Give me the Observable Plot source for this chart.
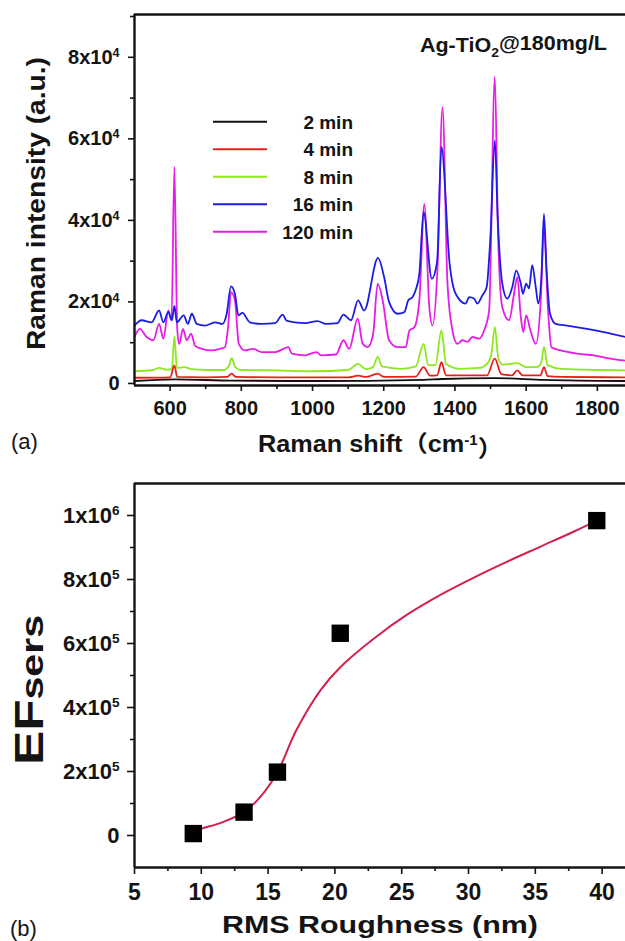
<!DOCTYPE html>
<html>
<head>
<meta charset="utf-8">
<script src="https://cdn.jsdelivr.net/npm/d3@7"></script>
<script src="https://cdn.jsdelivr.net/npm/@observablehq/plot@0.6"></script>
<style>
html, body { margin: 0; padding: 0; background: #fff; }
#wrap { position: relative; width: 625px; height: 941px; overflow: hidden; background: #fff; }
#wrap svg { position: absolute; left: 0; overflow: visible; }
</style>
</head>
<body>
<div id="wrap"></div>
<script>
// ---------------- Panel (a): Raman spectra ----------------
const seriesNames = ["2 min", "4 min", "8 min", "16 min", "120 min"];
const seriesColors = ["#111111", "#e8201c", "#8ee81c", "#1c1ce8", "#e81ce8"];

const min2X = [500, 612, 773, 1000, 1312, 1362, 1512, 1650, 1879];
const min2Y = [600, 1000, 700, 600, 900, 1100, 1300, 900, 600];

const min4X = [500, 600, 612, 620, 700, 760, 773, 785, 900, 1100, 1128, 1150, 1183, 1200, 1290, 1312, 1330, 1350, 1362, 1375, 1490, 1512, 1530, 1560, 1575, 1590, 1640, 1650, 1660, 1700, 1879];
const min4Y = [1400, 1500, 4400, 1600, 1500, 1600, 2400, 1600, 1500, 1500, 1900, 1600, 2400, 1600, 1700, 4000, 1900, 2000, 5200, 2000, 2000, 6100, 2300, 2000, 3200, 2000, 2000, 4000, 1800, 1600, 1500];

const min8X = [500, 550, 570, 590, 605, 612, 619, 640, 660, 700, 750, 765, 773, 783, 800, 900, 1000, 1100, 1128, 1150, 1170, 1183, 1195, 1250, 1290, 1312, 1325, 1345, 1362, 1375, 1416, 1470, 1490, 1502, 1512, 1522, 1535, 1575, 1600, 1630, 1642, 1650, 1660, 1700, 1800, 1879];
const min8Y = [3000, 3300, 3800, 3400, 3600, 11500, 3800, 4000, 3500, 3300, 3300, 4300, 6200, 4000, 3300, 3200, 3000, 3300, 4800, 3500, 4000, 6500, 4200, 3600, 4200, 9700, 4500, 4500, 13000, 4800, 3600, 3800, 4800, 7000, 13800, 6000, 4600, 5000, 4000, 4000, 5000, 8900, 4500, 3600, 3300, 3200];

const min16X = [500, 520, 548, 569, 581, 595, 605, 612, 619, 638, 650, 661, 675, 698, 726, 747, 759, 771, 782, 792, 803, 824, 857, 895, 916, 927, 951, 979, 1014, 1038, 1070, 1087, 1108, 1128, 1145, 1184, 1201, 1215, 1239, 1258, 1269, 1281, 1290, 1300, 1312, 1335, 1350, 1362, 1385, 1402, 1430, 1440, 1454, 1463, 1477, 1489, 1500, 1512, 1520, 1533, 1547, 1561, 1572, 1585, 1591, 1600, 1608, 1617, 1627, 1634, 1643, 1650, 1657, 1667, 1683, 1715, 1771, 1818, 1879];
const min16Y = [14200, 15500, 15000, 17900, 15000, 17500, 15500, 19000, 15000, 16700, 14600, 17100, 14600, 14200, 15000, 14600, 17100, 23800, 22000, 16700, 17300, 15000, 14600, 14800, 16900, 15400, 15000, 14800, 15300, 14600, 14800, 16900, 15500, 20400, 17900, 30800, 26100, 20000, 17100, 17500, 20400, 21200, 23000, 26900, 42000, 25700, 30000, 58000, 29400, 22000, 19600, 21200, 20800, 19600, 21600, 23600, 36700, 59600, 40800, 24500, 20800, 23600, 27700, 24500, 22000, 24500, 23300, 29000, 23600, 19600, 26500, 41600, 28500, 17100, 14600, 14200, 13400, 12600, 11400];

const min120X = [500, 515, 534, 553, 569, 581, 595, 604, 612, 620, 626, 636, 647, 659, 670, 689, 717, 740, 754, 763, 771, 782, 793, 810, 833, 857, 895, 932, 942, 979, 1011, 1024, 1066, 1087, 1103, 1127, 1141, 1155, 1170, 1183, 1197, 1215, 1239, 1262, 1272, 1286, 1300, 1314, 1328, 1337, 1351, 1365, 1379, 1393, 1407, 1421, 1435, 1449, 1468, 1482, 1496, 1512, 1521, 1533, 1552, 1566, 1575, 1585, 1592, 1600, 1612, 1627, 1641, 1650, 1661, 1671, 1697, 1744, 1790, 1837, 1879];
const min120Y = [11400, 13400, 11400, 10600, 14600, 11000, 17900, 15500, 53100, 13400, 9700, 13400, 10600, 12200, 9300, 8500, 8100, 8500, 8900, 14000, 22400, 20400, 9700, 8100, 8500, 7700, 7700, 8900, 7300, 6900, 7700, 6900, 7100, 10600, 8500, 15900, 9700, 8900, 12000, 24500, 20400, 10600, 8900, 8900, 13000, 13800, 20400, 44000, 18700, 14200, 28500, 67800, 24500, 13000, 9700, 10600, 10200, 11400, 11000, 13000, 17900, 75200, 36700, 18700, 15500, 22000, 26100, 16300, 12600, 16700, 13000, 9700, 20400, 38500, 18700, 8900, 8100, 7300, 6900, 6100, 5600];

const ramanXDomain = [500, 1879];
const ramanYDomain = [-500, 90500];
const ramanXTicks = [600, 800, 1000, 1200, 1400, 1600, 1800];
const ramanXMinor = [700, 900, 1100, 1300, 1500, 1700];
const ramanYTicks = [0, 20000, 40000, 60000, 80000];
const ramanYMinor = [10000, 30000, 50000, 70000, 90000];
const annotationMain = "Ag-TiO";
const annotationSub = "2";
const annotationTail = "@180mg/L";

// ---------------- Panel (b): EF vs roughness ----------------
const roughness = [9.4, 13.2, 15.7, 20.4, 39.6];
const efValues = [6000, 73000, 198000, 632000, 984000];
const fitRoughness = [9.4, 10.0, 11.6, 13.2, 14.4, 15.7, 17.1, 18.9, 20.4, 22.9, 25.4, 27.9, 30.4, 32.9, 35.4, 37.9, 39.6];
const fitEF = [12000, 21000, 42000, 73000, 120000, 198000, 328000, 453000, 526000, 615000, 690000, 752000, 806000, 856000, 903000, 950000, 984000];
const efXDomain = [5, 41.75];
const efYDomain = [-100000, 1100000];
const efXTicks = [5, 10, 15, 20, 25, 30, 35, 40];
const efXMinor = [7.5, 12.5, 17.5, 22.5, 27.5, 32.5, 37.5];
const efYTicks = [0, 200000, 400000, 600000, 800000, 1000000];
const efYMinor = [100000, 300000, 500000, 700000, 900000];

// ---------------- helpers ----------------
const FONT = '"Liberation Sans", Arial, Helvetica, sans-serif';
const INK = "#141414";
function rows(xs, ys, name) { return xs.map((x, i) => ({x, y: ys[i], series: name})); }
function sci(v) {
  if (v === 0) return "0";
  const e = Math.floor(Math.log10(Math.abs(v)) + 1e-9);
  const m = Math.round(v / Math.pow(10, e));
  return m + "x10^" + e;
}
const plain = v => String(v);
function supify(svg) {
  d3.select(svg).selectAll("text").each(function () {
    const t = this.textContent;
    const m = t.match(/^(.*x10)\^(-?\d+)$/);
    if (m) {
      const s = d3.select(this);
      s.text(m[1]);
      s.append("tspan").attr("dy", "-0.55em").attr("font-size", "0.62em").text(m[2]);
    }
  });
}

const seriesX = [min2X, min4X, min8X, min16X, min120X];
const seriesY = [min2Y, min4Y, min8Y, min16Y, min120Y];
const drawOrder = [4, 3, 2, 1, 0];

const wrap = document.getElementById("wrap");

// ---------------- Plot (a) ----------------
const plotA = Plot.plot({
  width: 625, height: 465,
  marginTop: 14, marginBottom: 80, marginLeft: 134, marginRight: 0,
  x: {domain: ramanXDomain, label: null},
  y: {domain: ramanYDomain, label: null},
  style: {fontFamily: FONT, color: INK, background: "transparent", overflow: "visible"},
  marks: [
    ...drawOrder.map(i => Plot.line(rows(seriesX[i], seriesY[i], seriesNames[i]),
      {x: "x", y: "y", stroke: seriesColors[i], strokeWidth: 1.8, curve: "monotone-x"})),
    Plot.ruleY([ramanYDomain[1]], {stroke: INK, strokeWidth: 2.4}),
    Plot.ruleY([ramanYDomain[0]], {stroke: INK, strokeWidth: 2.4}),
    Plot.ruleX([ramanXDomain[0]], {stroke: INK, strokeWidth: 2.4}),
    Plot.axisY(ramanYTicks, {tickSize: 6, tickPadding: 9, tickFormat: sci, fontSize: 20, fontWeight: "bold", strokeWidth: 1.6, label: null}),
    Plot.axisY(ramanYMinor, {tickSize: 4, tickFormat: () => "", strokeWidth: 1.6, label: null}),
    Plot.axisX(ramanXTicks, {tickSize: 6, tickPadding: 9, tickFormat: plain, fontSize: 20, fontWeight: "bold", strokeWidth: 1.6, label: null}),
    Plot.axisX(ramanXMinor, {tickSize: 4, tickFormat: () => "", strokeWidth: 1.6, label: null})
  ]
});
plotA.style.top = "0px";
wrap.appendChild(plotA);
supify(plotA);

const gA = d3.select(plotA);
// legend
seriesNames.forEach((name, i) => {
  const y = 121.7 + i * 27.5;
  gA.append("line").attr("x1", 213).attr("x2", 267).attr("y1", y).attr("y2", y)
    .attr("stroke", seriesColors[i]).attr("stroke-width", 2);
  gA.append("text").attr("x", 353).attr("y", y).attr("dy", "0.36em")
    .attr("text-anchor", "end").attr("font-family", FONT).attr("font-weight", "bold")
    .attr("font-size", 19).attr("fill", INK).text(name);
});
// annotation
{
  const t = gA.append("text").attr("x", 420).attr("y", 52).attr("text-anchor", "start")
    .attr("font-family", FONT).attr("font-weight", "bold").attr("font-size", 20).attr("fill", INK)
    .attr("textLength", 187).attr("lengthAdjust", "spacingAndGlyphs");
  t.append("tspan").text(annotationMain);
  t.append("tspan").attr("dy", "0.35em").attr("font-size", "0.65em").text(annotationSub);
  t.append("tspan").attr("dy", "-0.35em").text(annotationTail);
}
// y title
gA.append("text").attr("transform", "translate(45,350) rotate(-90)").attr("text-anchor", "start")
  .attr("font-family", FONT).attr("font-weight", "bold").attr("font-size", 25).attr("fill", INK)
  .attr("textLength", 293).attr("lengthAdjust", "spacingAndGlyphs")
  .text("Raman intensity (a.u.)");
// x title
{
  const t = gA.append("text").attr("x", 258).attr("y", 452).attr("text-anchor", "start")
    .attr("font-family", '"Liberation Sans", Arial, "Noto Sans CJK SC", sans-serif')
    .attr("font-weight", "bold").attr("font-size", 23).attr("fill", INK)
    .attr("textLength", 245).attr("lengthAdjust", "spacingAndGlyphs");
  t.append("tspan").text("Raman shift（cm");
  t.append("tspan").attr("dy", "-0.5em").attr("font-size", "0.6em").text("-1");
  t.append("tspan").attr("dy", "0.5em").text("）");
}
gA.append("text").attr("x", 11).attr("y", 449).attr("text-anchor", "start").attr("font-family", FONT)
  .attr("font-size", 22).attr("fill", INK).text("(a)");

// ---------------- Plot (b) ----------------
const plotB = Plot.plot({
  width: 625, height: 476,
  marginTop: 18, marginBottom: 74, marginLeft: 134, marginRight: 0,
  x: {domain: efXDomain, label: null},
  y: {domain: efYDomain, label: null},
  style: {fontFamily: FONT, color: INK, background: "transparent", overflow: "visible"},
  marks: [
    Plot.line(fitRoughness.map((x, i) => ({x, y: fitEF[i]})), {x: "x", y: "y", stroke: "#d4204c", strokeWidth: 2, curve: "catmull-rom"}),
    Plot.dot(roughness.map((x, i) => ({x, y: efValues[i]})), {x: "x", y: "y", symbol: "square", r: 9.8, fill: "#000", stroke: null}),
    Plot.ruleY([efYDomain[1]], {stroke: INK, strokeWidth: 2.4}),
    Plot.ruleY([efYDomain[0]], {stroke: INK, strokeWidth: 2.4}),
    Plot.ruleX([efXDomain[0]], {stroke: INK, strokeWidth: 2.4}),
    Plot.axisY(efYTicks, {tickSize: 7, tickPadding: 8, tickFormat: sci, fontSize: 22, fontWeight: "bold", strokeWidth: 1.6, label: null}),
    Plot.axisY(efYMinor, {tickSize: 4, tickFormat: () => "", strokeWidth: 1.6, label: null}),
    Plot.axisX(efXTicks, {tickSize: 7, tickPadding: 9, tickFormat: plain, fontSize: 23, fontWeight: "bold", strokeWidth: 1.6, label: null}),
    Plot.axisX(efXMinor, {tickSize: 4, tickFormat: () => "", strokeWidth: 1.6, label: null})
  ]
});
plotB.style.top = "465px";
wrap.appendChild(plotB);
supify(plotB);

const gB = d3.select(plotB);
{
  const t = gB.append("text").attr("transform", "translate(43,300) rotate(-90)").attr("text-anchor", "start")
    .attr("font-family", FONT).attr("font-weight", "bold").attr("fill", INK)
    .attr("textLength", 150).attr("lengthAdjust", "spacingAndGlyphs");
  t.append("tspan").attr("font-size", 40).text("EF");
  t.append("tspan").attr("font-size", 32).text("sers");
}
gB.append("text").attr("x", 222).attr("y", 468).attr("text-anchor", "start").attr("font-family", FONT)
  .attr("font-weight", "bold").attr("font-size", 24).attr("fill", INK)
  .attr("textLength", 316).attr("lengthAdjust", "spacingAndGlyphs")
  .text("RMS Roughness (nm)");
gB.append("text").attr("x", 10).attr("y", 471).attr("text-anchor", "start").attr("font-family", FONT)
  .attr("font-size", 22).attr("fill", INK).text("(b)");
</script>
</body>
</html>
